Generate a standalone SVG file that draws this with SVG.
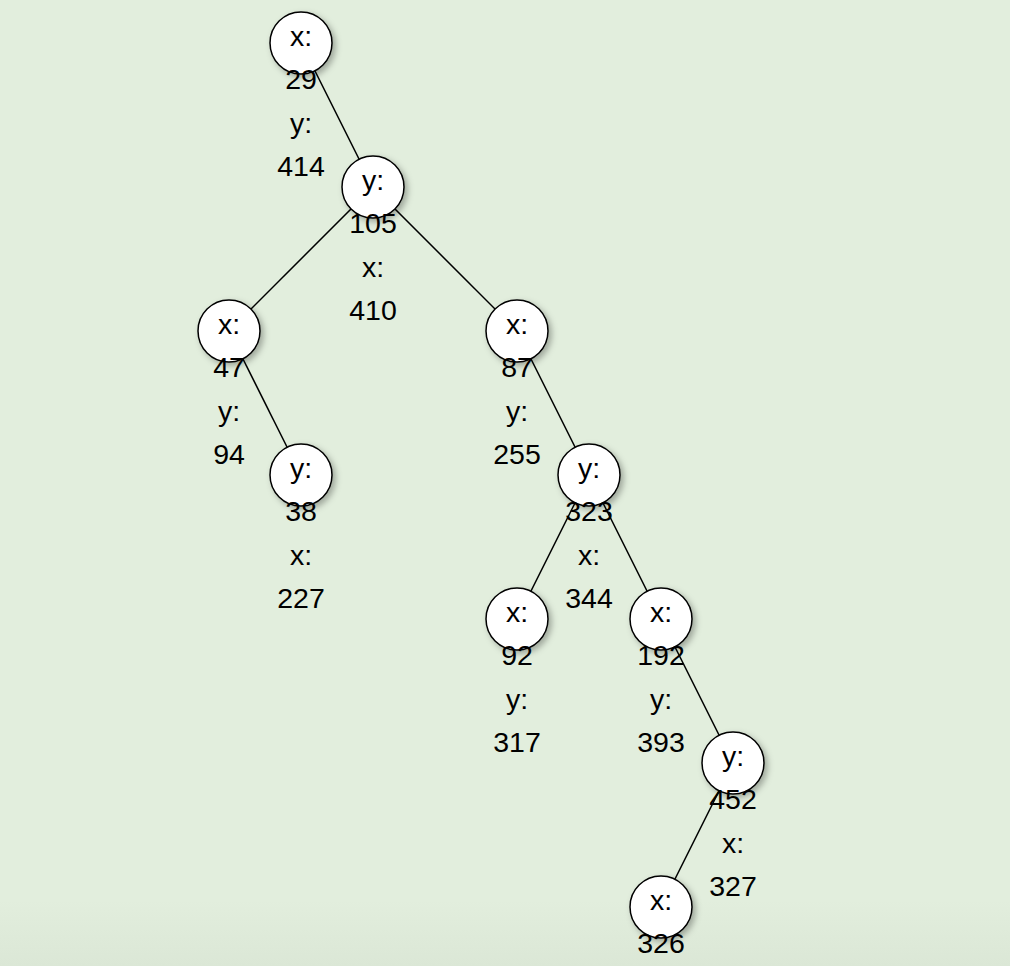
<svg xmlns="http://www.w3.org/2000/svg" width="1010" height="966" viewBox="0 0 1010 966">
<defs>
<filter id="sh" x="-50%" y="-50%" width="200%" height="200%">
<feDropShadow dx="3" dy="3" stdDeviation="3" flood-color="#000" flood-opacity="0.3"/>
</filter>
<linearGradient id="bot" x1="0" y1="0" x2="0" y2="1">
<stop offset="0" stop-color="#d8e4d3" stop-opacity="0"/>
<stop offset="1" stop-color="#d8e4d3" stop-opacity="0.7"/>
</linearGradient>
<style>
.n circle{fill:#fff;stroke:#000;stroke-width:1.5;filter:url(#sh)}
.n text{font-family:"Liberation Sans",Arial,sans-serif;font-size:28.5px;fill:#000;text-anchor:middle}
.e line{stroke:#000;stroke-width:1.5}
</style>
</defs>
<rect width="1010" height="966" fill="#e2eedd"/>
<rect y="900" width="1010" height="66" fill="url(#bot)"/>
<g id="edges" class="e">
<line x1="301" y1="43" x2="373" y2="187"/>
<line x1="373" y1="187" x2="229" y2="331"/>
<line x1="373" y1="187" x2="517" y2="331"/>
<line x1="229" y1="331" x2="301" y2="475"/>
<line x1="517" y1="331" x2="589" y2="475"/>
<line x1="589" y1="475" x2="517" y2="619"/>
<line x1="589" y1="475" x2="661" y2="619"/>
<line x1="661" y1="619" x2="733" y2="763"/>
<line x1="733" y1="763" x2="661" y2="907"/>
</g>
<g id="n1" class="n"><circle cx="301" cy="43" r="31"/><text x="301" y="45.5">x:</text><text x="301" y="89">29</text><text x="301" y="132.5">y:</text><text x="301" y="176">414</text></g>
<g id="n2" class="n"><circle cx="373" cy="187" r="31"/><text x="373" y="189.5">y:</text><text x="373" y="233">105</text><text x="373" y="276.5">x:</text><text x="373" y="320">410</text></g>
<g id="n3" class="n"><circle cx="229" cy="331" r="31"/><text x="229" y="333.5">x:</text><text x="229" y="377">47</text><text x="229" y="420.5">y:</text><text x="229" y="464">94</text></g>
<g id="n4" class="n"><circle cx="301" cy="475" r="31"/><text x="301" y="477.5">y:</text><text x="301" y="521">38</text><text x="301" y="564.5">x:</text><text x="301" y="608">227</text></g>
<g id="n5" class="n"><circle cx="517" cy="331" r="31"/><text x="517" y="333.5">x:</text><text x="517" y="377">87</text><text x="517" y="420.5">y:</text><text x="517" y="464">255</text></g>
<g id="n6" class="n"><circle cx="589" cy="475" r="31"/><text x="589" y="477.5">y:</text><text x="589" y="521">323</text><text x="589" y="564.5">x:</text><text x="589" y="608">344</text></g>
<g id="n7" class="n"><circle cx="517" cy="619" r="31"/><text x="517" y="621.5">x:</text><text x="517" y="665">92</text><text x="517" y="708.5">y:</text><text x="517" y="752">317</text></g>
<g id="n8" class="n"><circle cx="661" cy="619" r="31"/><text x="661" y="621.5">x:</text><text x="661" y="665">192</text><text x="661" y="708.5">y:</text><text x="661" y="752">393</text></g>
<g id="n9" class="n"><circle cx="733" cy="763" r="31"/><text x="733" y="765.5">y:</text><text x="733" y="809">452</text><text x="733" y="852.5">x:</text><text x="733" y="896">327</text></g>
<g id="n10" class="n"><circle cx="661" cy="907" r="31"/><text x="661" y="909.5">x:</text><text x="661" y="953">326</text></g>
</svg>
